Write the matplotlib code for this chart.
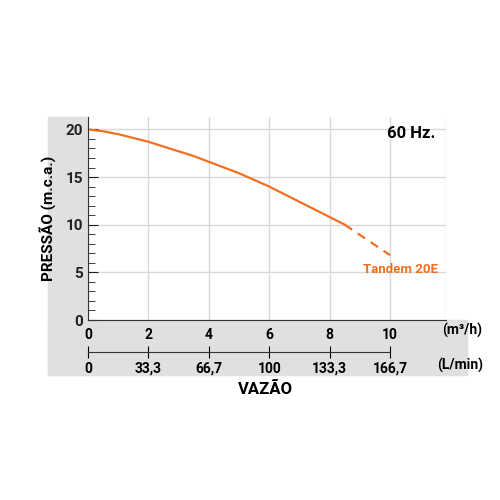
import matplotlib.pyplot as plt
from matplotlib.patches import Rectangle

vazao_solid = [0, 0.5, 1, 1.5, 2, 2.5, 3, 3.5, 4, 4.5, 5, 5.5, 6, 6.5, 7, 7.5, 8, 8.5]
pressao_solid = [20, 19.8, 19.5, 19.1, 18.7, 18.2, 17.7, 17.2, 16.6, 16.0, 15.4, 14.7, 14.0, 13.2, 12.4, 11.6, 10.8, 10.0]
vazao_dash = [8.5, 10]
pressao_dash = [10.0, 6.8]
m3h_ticks = [0, 2, 4, 6, 8, 10]
lmin_labels = ['0', '33,3', '66,7', '100', '133,3', '166,7']

orange = '#f07020'
grey = '#e0e0e0'
plt.rcParams['font.family'] = ['Roboto', 'DejaVu Sans']
plt.rcParams['font.weight'] = 'bold'

fig = plt.figure(figsize=(5, 5), dpi=100)
bg = fig.add_axes([0, 0, 1, 1], zorder=-1)
bg.set_xlim(0, 1)
bg.set_ylim(0, 1)
bg.axis('off')
bg.add_patch(Rectangle((0.096, 0.25), 0.08, 0.516, color=grey))
bg.add_patch(Rectangle((0.096, 0.25), 0.838, 0.11, color=grey))

ax = fig.add_axes([0.176, 0.36, 0.716, 0.406])
ax.plot(vazao_solid, pressao_solid, color=orange, lw=1.6)
ax.plot(vazao_dash, pressao_dash, color=orange, lw=1.6, ls=(0, (4, 3)))
ax.set_xlim(0, 11.85)
ax.set_ylim(0, 21.3)
ax.set_yticks([0, 5, 10, 15, 20])
ax.set_yticks(range(0, 21), minor=True)
ax.set_xticks(m3h_ticks + [11.85])
ax.set_xticklabels([str(t) for t in m3h_ticks] + [''])
ax.grid(True, color='#d8d8d8', lw=1)
for s in ['top', 'right']:
    ax.spines[s].set_visible(False)
ax.spines['left'].set_color('#333333')
ax.spines['bottom'].set_color('#333333')
ax.tick_params(axis='y', which='both', direction='in', labelsize=11, colors='#222222')
ax.tick_params(axis='y', which='major', length=7)
ax.tick_params(axis='y', which='minor', length=5)
ax.tick_params(axis='x', length=0, labelsize=10, pad=6)
ax.set_ylabel('PRESSÃO (m.c.a.)', fontsize=11, fontweight='bold', labelpad=6)
ax.text(11.5, 19.6, '60 Hz.', fontsize=12, fontweight='bold', ha='right', va='center')
ax.text(11.6, 5.3, 'Tandem 20E', color=orange, fontsize=9.5, ha='right', va='center')
ax.text(12.4, -1.1, '(m³/h)', fontsize=10, ha='center', va='center', clip_on=False)

ax2 = fig.add_axes([0.176, 0.296, 0.716, 0.0001])
ax2.set_xlim(0, 11.85)
ax2.patch.set_visible(False)
ax2.set_yticks([])
for s in ['top', 'right', 'left']:
    ax2.spines[s].set_visible(False)
ax2.spines['bottom'].set_bounds(0, 10)
ax2.spines['bottom'].set_color('#333333')
ax2.set_xticks(m3h_ticks)
ax2.set_xticklabels(lmin_labels)
ax2.tick_params(axis='x', direction='inout', length=8, labelsize=10, pad=3)
fig.text(0.92, 0.27, '(L/min)', fontsize=10, ha='center', va='center')
fig.text(0.53, 0.222, 'VAZÃO', fontsize=12, fontweight='bold', ha='center', va='center')

fig.savefig('out.png')
